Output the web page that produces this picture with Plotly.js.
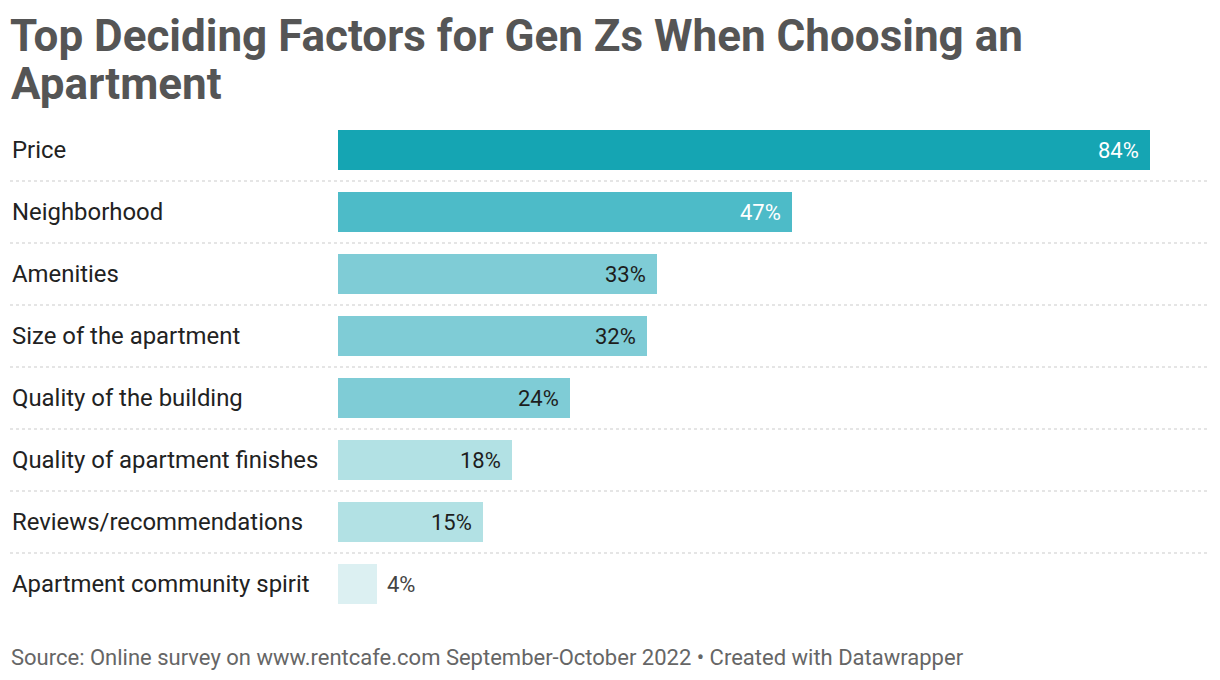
<!DOCTYPE html>
<html>
<head>
<meta charset="utf-8">
<script src="https://cdn.plot.ly/plotly-3.0.1.min.js"></script>
<style>html,body{margin:0;padding:0;background:#fff;}#chart{width:1220px;height:680px;}</style>
</head>
<body>
<div id="chart"></div>
<script>
const categories = ["Price","Neighborhood","Amenities","Size of the apartment","Quality of the building","Quality of apartment finishes","Reviews/recommendations","Apartment community spirit"];
const values = [84,47,33,32,24,18,15,4];
const barColors = ["#15a5b3","#4dbbc8","#7fccd6","#7fccd6","#7fccd6","#b2e1e4","#b2e1e4","#dcf0f2"];
const labelColors = ["#ffffff","#ffffff","#1d1d1d","#1d1d1d","#1d1d1d","#1d1d1d","#1d1d1d","#444444"];
const labelInside = [true,true,true,true,true,true,true,false];
const titleLine1 = "Top Deciding Factors for Gen Zs When Choosing an";
const titleLine2 = "Apartment";
const sourceText = "Source: Online survey on www.rentcafe.com September-October 2022 • Created with Datawrapper";

const W = 1220, H = 680, L = 338, R = 70, T = 119, B = 65;
const plotW = W - L - R, plotH = H - T - B;
const px2paperX = p => (p - L) / plotW;
const px2paperY = p => 1 - (p - T) / plotH;

const annotations = [];
categories.forEach((c, i) => {
  annotations.push({
    xref: 'paper', yref: 'y', x: px2paperX(10), y: c, xanchor: 'left', yanchor: 'middle',
    text: c, showarrow: false, font: {family: 'Roboto', size: 23.9, color: '#222'}
  });
  annotations.push({
    xref: 'x', yref: 'y', x: values[i], y: c,
    xanchor: labelInside[i] ? 'right' : 'left', xshift: labelInside[i] ? -9 : 8,
    yanchor: 'middle', text: values[i] + '%', showarrow: false,
    font: {family: 'Roboto', size: 22, color: labelColors[i]}
  });
});
annotations.push({
  xref: 'paper', yref: 'paper', x: px2paperX(9), y: px2paperY(84), xanchor: 'left', yanchor: 'middle',
  text: titleLine2, showarrow: false, font: {family: 'Roboto', size: 44, color: '#555555', weight: 'bold'}
});
annotations.push({
  xref: 'paper', yref: 'paper', x: px2paperX(9), y: px2paperY(657), xanchor: 'left', yanchor: 'middle',
  text: sourceText, showarrow: false, font: {family: 'Roboto', size: 22, color: '#666'}
});

const shapes = [];
for (let i = 0; i < categories.length - 1; i++) {
  shapes.push({
    type: 'line', xref: 'paper', yref: 'y', x0: px2paperX(10), x1: px2paperX(1208),
    y0: i + 0.5, y1: i + 0.5, line: {color: '#cccccc', width: 1.2, dash: 'dot'}
  });
}

const trace = {
  type: 'bar', orientation: 'h', x: values, y: categories,
  marker: {color: barColors, line: {width: 0}}, width: 0.645,
  hoverinfo: 'none'
};

const layout = {
  width: W, height: H,
  margin: {l: L, r: R, t: T, b: B},
  paper_bgcolor: '#fff', plot_bgcolor: '#fff',
  title: {text: titleLine1, x: 10 / W, xref: 'container', xanchor: 'left', y: 1 - 36 / H, yref: 'container', yanchor: 'middle',
          font: {family: 'Roboto', size: 44, color: '#555555', weight: 'bold'}},
  xaxis: {range: [0, 84], visible: false, fixedrange: true},
  yaxis: {autorange: 'reversed', showticklabels: false, showgrid: false, zeroline: false, ticks: '', fixedrange: true},
  showlegend: false, bargap: 0,
  annotations: annotations, shapes: shapes
};

Plotly.newPlot('chart', [trace], layout, {displayModeBar: false, staticPlot: true});
</script>
</body>
</html>
